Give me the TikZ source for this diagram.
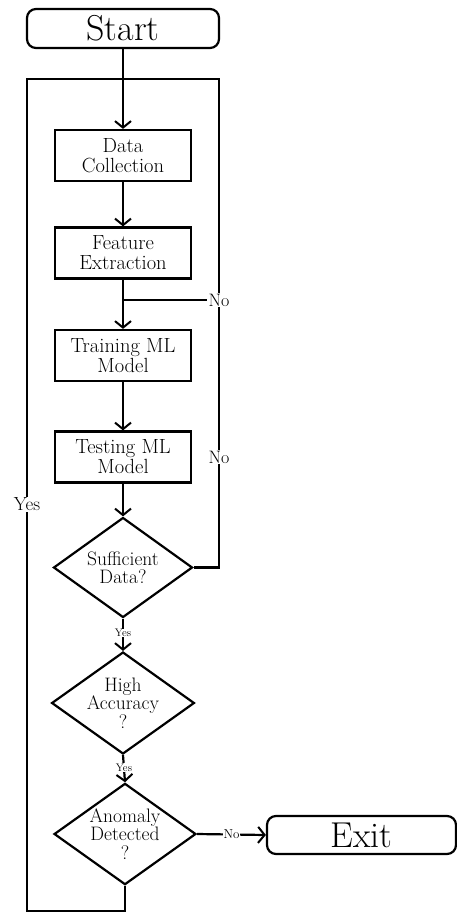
\documentclass[tikz,border=0pt]{standalone}
\usepackage{fontspec}
\usetikzlibrary{shapes.geometric,arrows.meta}
\begin{document}
\begin{tikzpicture}[x=1pt,y=-1pt,
  line width=2.2pt,
  arr/.style={-{Straight Barb[length=6.5pt,width=16pt,line width=2pt]}},
  term/.style={draw,rounded corners=9pt,minimum width=192pt,minimum height=39pt,inner sep=0pt,font=\fontsize{36}{36}\selectfont},
  proc/.style={draw,minimum width=136pt,minimum height=51pt,inner sep=0pt,align=center,font=\fontsize{20.5}{20}\selectfont},
  dec/.style={draw,diamond,shape aspect=1.4,minimum width=139pt,minimum height=100pt,inner sep=0pt,align=center,font=\fontsize{19.5}{18.5}\selectfont},
  lbl/.style={fill=white,inner sep=1pt,font=\fontsize{18}{18}\selectfont},
  slbl/.style={fill=white,inner sep=0.5pt,font=\fontsize{11}{11}\selectfont}]
\useasboundingbox (0,0) rectangle (457,912);
\node[term] (start) at (123,28.5) {Start};
\node[proc] (dc) at (123,155.5) {Data\\Collection};
\node[proc] (fe) at (123,253) {Feature\\Extraction};
\node[proc] (tr) at (123,355.5) {Training ML\\Model};
\node[proc] (te) at (123,457) {Testing ML\\Model};
\node[dec] (sd) at (123,567.5) {Sufficient\\Data?};
\node[dec] (ha) at (123,703) {High\\Accuracy\\?};
\node[dec] (ad) at (125,834) {Anomaly\\Detected\\?};
\node[term,minimum width=189pt,minimum height=38pt] (exit) at (361.5,835) {Exit};
\coordinate (bl) at (27,911);
\coordinate (tl) at (27,79);
\coordinate (tr2) at (219,79);
\coordinate (br) at (219,567.5);
\coordinate (j) at (123,300);
\draw[arr] (start) -- (dc);
\draw[arr] (dc) -- (fe);
\draw[arr] (fe) -- (tr);
\draw[arr] (tr) -- (te);
\draw[arr] (te) -- (sd);
\draw[arr] (sd) -- node[slbl,pos=0.45]{Yes} (ha);
\draw[arr] (ha.south) -- node[slbl,pos=0.45]{Yes} (ad.north);
\draw[arr] (ad.east) -- node[slbl,font=\fontsize{13}{13}\selectfont]{No} (exit.west);
\draw[line join=miter] (ad.south) -- (ad.south |- bl) -- (bl) -- node[lbl,pos=0.489,font=\fontsize{19}{19}\selectfont]{Yes} (tl) -- (tr2) -- node[lbl,pos=0.774]{No} (br) -- (sd.east);
\node[lbl] (no1) at (219,300) {No};
\draw (j) -- (no1.west);
\end{tikzpicture}
\end{document}
